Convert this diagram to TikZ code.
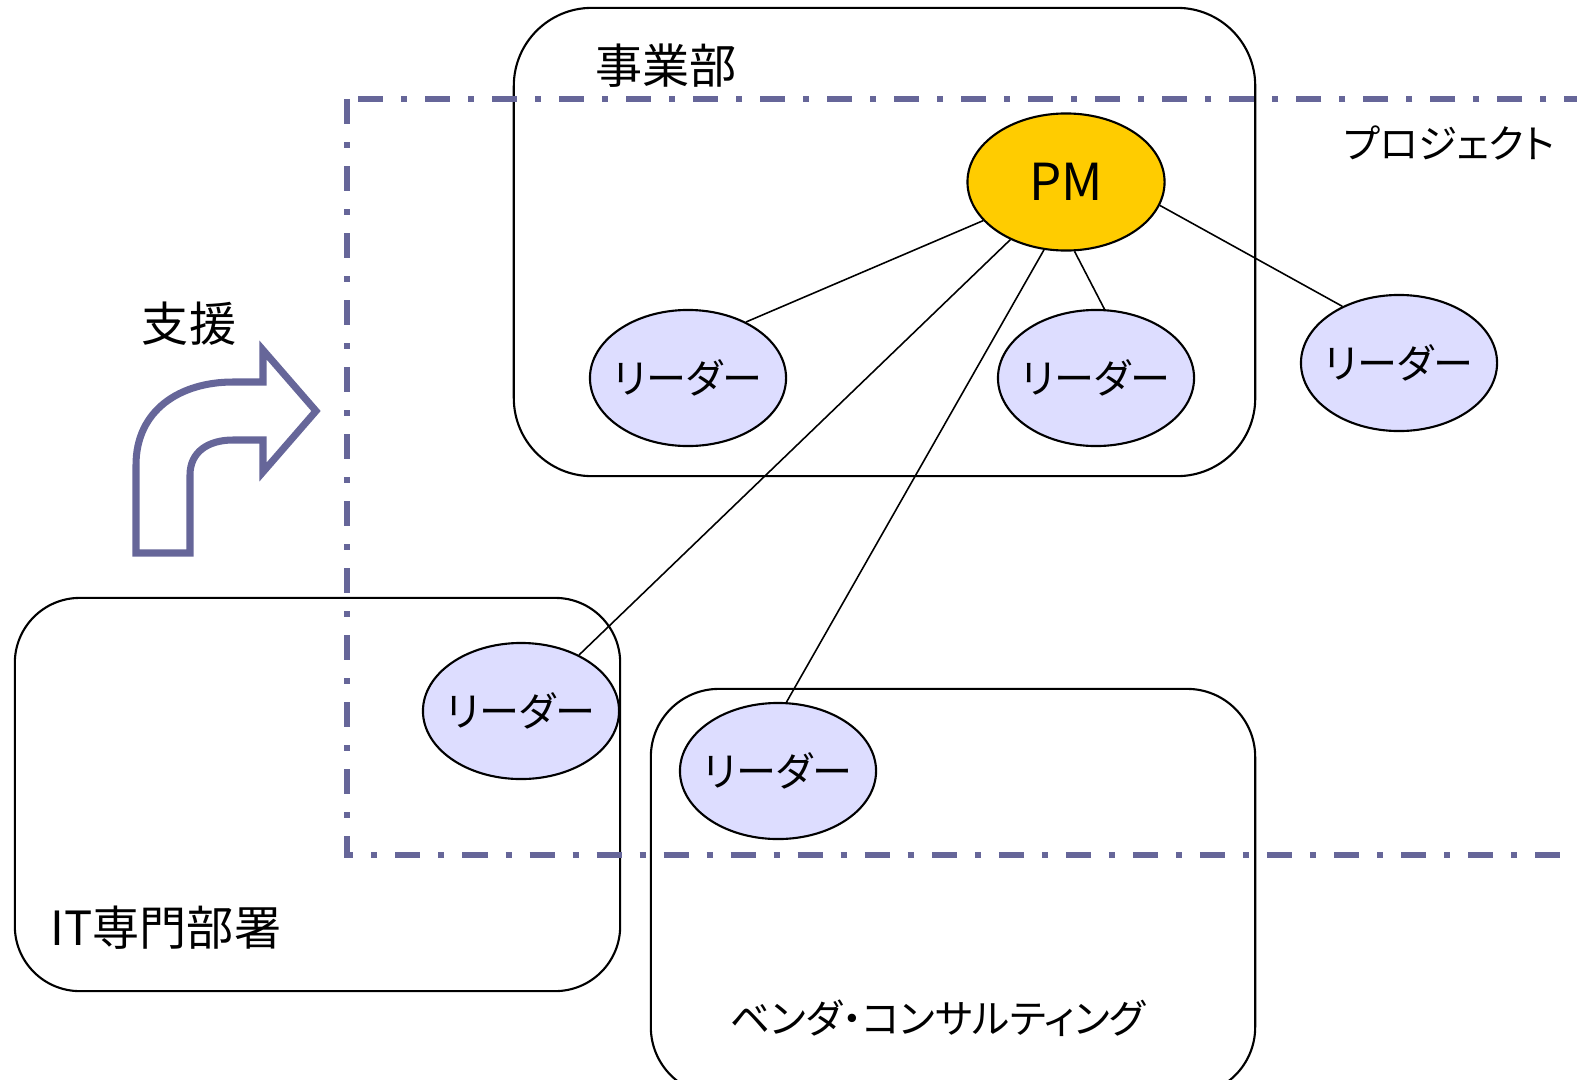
\documentclass[tikz,border=0pt]{standalone}
\usepackage{fontspec}
\newfontfamily\jp[RawFeature=+palt]{Noto Sans CJK JP}
\usetikzlibrary{shapes.geometric}
\definecolor{waku}{HTML}{666699}
\definecolor{pmfill}{HTML}{FFCC00}
\definecolor{leadfill}{HTML}{DDDDFF}
\tikzset{group/.style={draw,line width=0.6pt,rounded corners=#1,inner sep=0pt}}
\tikzset{conn/.style={draw,line width=0.45pt}}

\begin{document}
\begin{tikzpicture}[x=0.01cm,y=-0.01cm,font=\jp]
		\tikzstyle{leader}=[draw,ellipse,fill=leadfill,line width=0.6pt,minimum width=1.96cm,minimum height=1.36cm,inner sep=-0.5cm,font=\jp\fontsize{11.4}{11.4}\selectfont]
		\tikzstyle{boss}=[leader,fill=pmfill,minimum width=1.97cm,minimum height=1.37cm,font=\jp\fontsize{14.5}{14.5}\selectfont]
		\tikzstyle{title}=[inner sep=0pt,font=\jp\fontsize{13.4}{13.4}\selectfont]

		\useasboundingbox (0,0) rectangle (1577,1079);
		\clip (0,0) rectangle (1577,1079);

		% groups
		\node[group=0.78cm,minimum width=7.41cm,minimum height=4.68cm](jigyo) at (884.5,242){};
		\node[group=0.65cm,minimum width=6.05cm,minimum height=3.93cm](it) at (317.5,794.5){};
		\node[group=0.68cm,minimum width=6.04cm,minimum height=4.06cm](vendor) at (953,892){};

		% project frame
		\draw[waku,line width=1.7pt,dash pattern=on 0.25cm off 0.18cm on 0.06cm off 0.18cm] (347,99) rectangle (1620,855);

		\node[title](tjigyo) at (666,66){事業部};
		\node[title,font=\jp\fontsize{11.2}{11.2}\selectfont](tpro) at (1449,143){プロジェクト};
		\node[title](tshien) at (189,324){支援};
		\node[title,anchor=west](tit) at (50,928){IT専門部署};
		\node[title,font=\jp\fontsize{11.3}{11.3}\selectfont](tvendor) at (938,1018){ベンダ・コンサルティング};

		% support arrow
		\draw[waku,line width=2pt,fill=white] (136,553) -- (136,465) .. controls (136,410) and (180,382) .. (233,382) -- (263,382) -- (263,350) -- (316,411) -- (263,472) -- (263,440) -- (233,440) .. controls (208,440) and (190,452) .. (190,475) -- (190,553) -- cycle;

		\node[boss](pm) at (1066,182){\raisebox{-0.05cm}{PM}};
		\node[leader](l1) at (688,378){リーダー};
		\node[leader](l2) at (1096,378){リーダー};
		\node[leader](l3) at (1399,363){リーダー};
		\node[leader](l4) at (521,711){リーダー};
		\node[leader](l5) at (778,771){リーダー};

		\draw[conn] (pm.205) -- (l1.44);
		\draw[conn] (pm.226) -- (l4.44);
		\draw[conn] (pm.252) -- (l5.83);
		\draw[conn] (pm.277) -- (l2.83);
		\draw[conn] (pm.346) -- (l3.135);
	\end{tikzpicture}
\end{document}
